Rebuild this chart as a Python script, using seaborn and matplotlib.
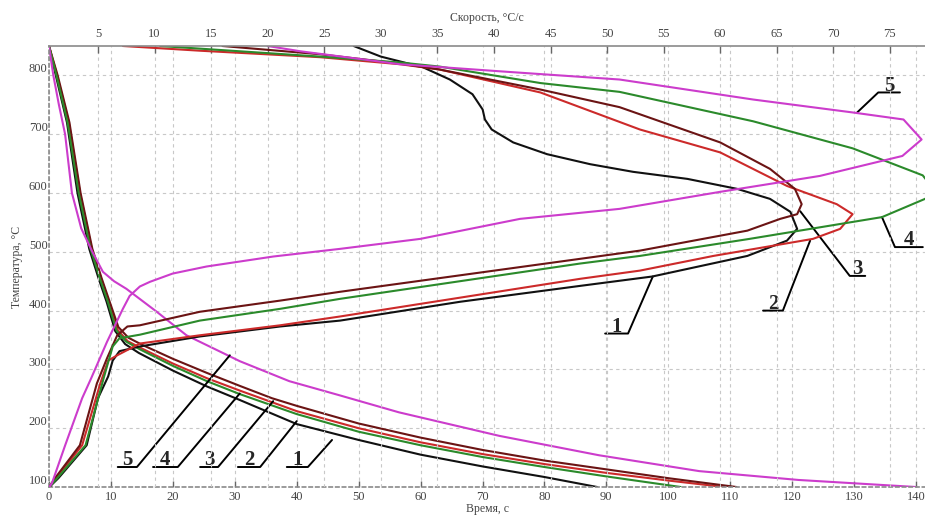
import matplotlib
matplotlib.use("Agg")
import matplotlib.pyplot as plt
import seaborn as sns

# cooling curves: time, s (bottom axis) vs temperature, C
time_1 = [0, 1.1, 2.9, 4.6, 6.5, 8.0, 9.3, 10.7, 12.3, 14.5, 20, 25.5, 30.8, 40, 50, 60, 70, 80, 88.5]
temp_1 = [850, 800, 720, 600, 505, 455, 415, 365, 343, 328, 298, 271, 248, 207, 180, 155, 135, 117, 100]
time_2 = [0, 1.3, 3.2, 5.0, 6.9, 8.4, 9.7, 11.1, 12.7, 14.9, 20, 25.5, 30.8, 40, 50, 60, 70, 80, 90, 100, 109]
temp_2 = [850, 800, 720, 600, 505, 455, 413, 367, 348, 336, 310, 285, 264, 229, 200, 176, 156, 139, 124, 111, 100]
time_3 = [0, 1.4, 3.3, 5.1, 7.0, 8.5, 9.8, 11.2, 12.8, 15, 20, 25.5, 30.8, 36, 40, 50, 60, 70, 80, 90, 100, 111]
temp_3 = [850, 800, 720, 600, 505, 455, 415, 372, 354, 342, 318, 294, 272, 251, 238, 208, 184, 163, 145, 130, 115, 100]
time_4 = [0, 1.2, 3.0, 4.8, 6.7, 8.2, 9.5, 10.9, 12.5, 14.7, 20, 25.5, 30.8, 40, 50, 60, 70, 80, 90, 102]
temp_4 = [850, 800, 720, 600, 505, 455, 415, 366, 347, 334, 306, 280, 258, 224, 194, 171, 151, 134, 118, 100]
time_5 = [0, 0.7, 1.6, 2.6, 3.7, 5.2, 7.0, 8.7, 10.5, 12.5, 17.4, 22.2, 30.8, 38.8, 46.9, 56.5, 72.7, 88.8, 105, 121, 140]
temp_5 = [850, 800, 750, 700, 600, 540, 500, 466, 450, 437, 398, 358, 314, 280, 256, 227, 187, 154, 127, 112, 100]

# cooling rate curves: rate, C/s (top axis) vs temperature, C
rate_1 = [27.6, 30.0, 33.7, 36.1, 38.1, 39.0, 39.2, 39.8, 41.7, 44.7, 48.5, 52.3, 57.1, 61.5, 64.4, 66.2, 66.8,
          65.9, 62.4, 56.4, 54.0, 47.6, 37.0, 26.4, 21.1, 14.0, 8.7, 6.9, 6.3, 5.9, 5.0, 4.0, 1.5, 0.7]
rtemp_1 = [850, 832, 814, 793, 768, 742, 725, 708, 686, 666, 649, 636, 624, 607, 590, 568, 539,
           519, 493, 468, 458, 442, 415, 383, 373, 356, 339, 331, 315, 288, 251, 171, 115, 100]
rate_2 = [7.2, 14.0, 24.6, 31.7, 35.2, 44.1, 52.9, 60.0, 65.9, 70.3, 71.7, 70.6, 68.2, 59.4, 52.9, 47.6, 37.0,
          26.4, 21.1, 14.0, 8.7, 6.7, 5.9, 5.2, 3.6, 1.3, 0.7]
rtemp_2 = [850, 842, 831, 819, 810, 771, 708, 669, 612, 581, 564, 539, 522, 493, 468, 454, 422,
           390, 375, 358, 344, 324, 315, 276, 171, 115, 100]
rate_3 = [16.0, 24.6, 31.7, 35.2, 44.1, 51.1, 60.0, 64.4, 66.6, 67.2, 66.8, 65.3, 62.4, 52.9, 47.6, 37.0, 26.4,
          21.1, 14.0, 8.7, 7.6, 6.7, 5.8, 4.9, 3.4, 1.2, 0.7]
rtemp_3 = [850, 836, 820, 810, 776, 746, 686, 641, 607, 581, 564, 556, 536, 502, 488, 460, 432,
           417, 398, 375, 373, 358, 319, 276, 171, 115, 100]
rate_4 = [10.5, 24.6, 31.7, 35.2, 44.1, 51.1, 62.9, 71.7, 77.9, 79.0, 78.1, 74.3, 62.6, 52.9, 47.6, 37.0, 26.4,
          21.1, 14.0, 8.7, 6.9, 6.3, 5.5, 3.9, 1.4, 0.7]
rtemp_4 = [850, 832, 822, 815, 787, 772, 722, 676, 630, 603, 590, 559, 522, 493, 480, 450, 420,
           403, 383, 359, 353, 339, 285, 171, 115, 100]
rate_5 = [20.0, 22.9, 31.7, 40.5, 51.1, 62.9, 71.7, 76.2, 77.8, 76.1, 68.8, 60.0, 51.1, 42.3, 33.5, 26.4, 20.5,
          14.6, 11.6, 9.6, 8.7, 7.8, 7.2, 5.8, 4.4, 3.6, 2.1, 0.94, 0.7]
rtemp_5 = [850, 841, 819, 807, 793, 759, 737, 725, 691, 663, 629, 602, 573, 556, 522, 505, 492,
           475, 463, 449, 441, 425, 403, 347, 285, 251, 171, 107, 100]

time_ticks = list(range(0, 141, 10))
rate_ticks = list(range(5, 76, 5))
temp_ticks = list(range(100, 801, 100))

colors = {1: "#111111", 2: "#cc2a2a", 3: "#6b1414", 4: "#2b8a2b", 5: "#cc3ccc"}

sns.set_style("white")
plt.rcParams['font.family'] = ['Liberation Serif', 'DejaVu Serif']

fig = plt.figure(figsize=(9.25, 5.2), dpi=100)
ax = fig.add_axes([49 / 925, 33 / 520, 876 / 925, 441 / 520])
ax2 = ax.twiny()

grid_kw = dict(color="#c8c8c8", lw=0.8, ls=(0, (3, 3)))

cooling = [(time_1, temp_1, 1), (time_2, temp_2, 2), (time_3, temp_3, 3), (time_4, temp_4, 4), (time_5, temp_5, 5)]
for t, T, k in cooling:
    sns.lineplot(x=t, y=T, sort=False, estimator=None, color=colors[k], lw=1.5, ax=ax)

rates = [(rate_1, rtemp_1, 1), (rate_2, rtemp_2, 2), (rate_3, rtemp_3, 3), (rate_4, rtemp_4, 4), (rate_5, rtemp_5, 5)]
for v, T, k in rates:
    sns.lineplot(x=v, y=T, sort=False, estimator=None, color=colors[k], lw=1.5, ax=ax2)

ax.set_xlim(0, 141.45)
ax.set_ylim(100, 850)
ax2.set_xlim(0.67, 78.1)
ax.set_xticks(time_ticks)
ax.set_yticks(temp_ticks)
ax2.set_xticks(rate_ticks)

ax.grid(True, **grid_kw)
ax2.grid(True, axis="x", **grid_kw)
ax.set_axisbelow(True)
ax2.set_axisbelow(True)

for s in ["top", "right"]:
    ax.spines[s].set_visible(False)
for s in ["bottom", "left", "right"]:
    ax2.spines[s].set_visible(False)
ax2.spines["top"].set_color("#8a8a8a")
ax2.spines["top"].set_linewidth(1.2)
for s in ["bottom", "left"]:
    ax.spines[s].set_color("#8a8a8a")
    ax.spines[s].set_linewidth(1.2)
    ax.spines[s].set_linestyle((0, (2, 2)))

ax.tick_params(axis="x", direction="in", length=4, width=1, color="#666", labelsize=9, labelcolor="#444", pad=3)
ax.tick_params(axis="y", direction="in", length=4, width=1, color="#666", labelsize=9, labelcolor="#444", pad=1)
ax2.tick_params(axis="x", direction="in", length=5, width=1, color="#666", labelsize=9, labelcolor="#444", pad=4)
for lbl in ax.get_yticklabels():
    lbl.set_verticalalignment("bottom")

ax.set_xlabel("Время, с", fontsize=8.5, color="#444", labelpad=0)
ax.set_ylabel("Температура, °С", fontsize=8.5, color="#444", labelpad=4)
ax2.set_xlabel("Скорость, °С/с", fontsize=8.5, color="#444", labelpad=5)

# numbered leader labels: (text, point on curve, corner, end of underline) in time/temperature units
leaders = [
    ("5", (29.2, 324), (14.2, 134), (11.1, 134)),
    ("4", (30.8, 259), (20.8, 134), (16.8, 134)),
    ("3", (36.2, 246), (27.3, 134), (24.4, 134)),
    ("2", (40.0, 212), (34.1, 134), (30.5, 134)),
    ("1", (45.7, 180), (41.8, 134), (38.4, 134)),
    ("1", (97.5, 458), (93.5, 361), (89.8, 361)),
    ("2", (122.9, 519), (118.5, 400), (115.3, 400)),
    ("3", (121.3, 569), (129.3, 459), (131.8, 459)),
    ("4", (134.5, 559), (136.6, 508), (141.1, 508)),
    ("5", (130.5, 737), (133.9, 771), (137.4, 771)),
]
for txt, p0, p1, p2 in leaders:
    ax.plot([p0[0], p1[0], p2[0]], [p0[1], p1[1], p2[1]], color="black", lw=1.4,
            clip_on=False, zorder=6)
    ax.text((p1[0] + p2[0]) / 2, p1[1] + 3, txt, ha="center", va="baseline",
            fontsize=15, fontweight="bold", zorder=6)

fig.savefig("out.png", dpi=100)
